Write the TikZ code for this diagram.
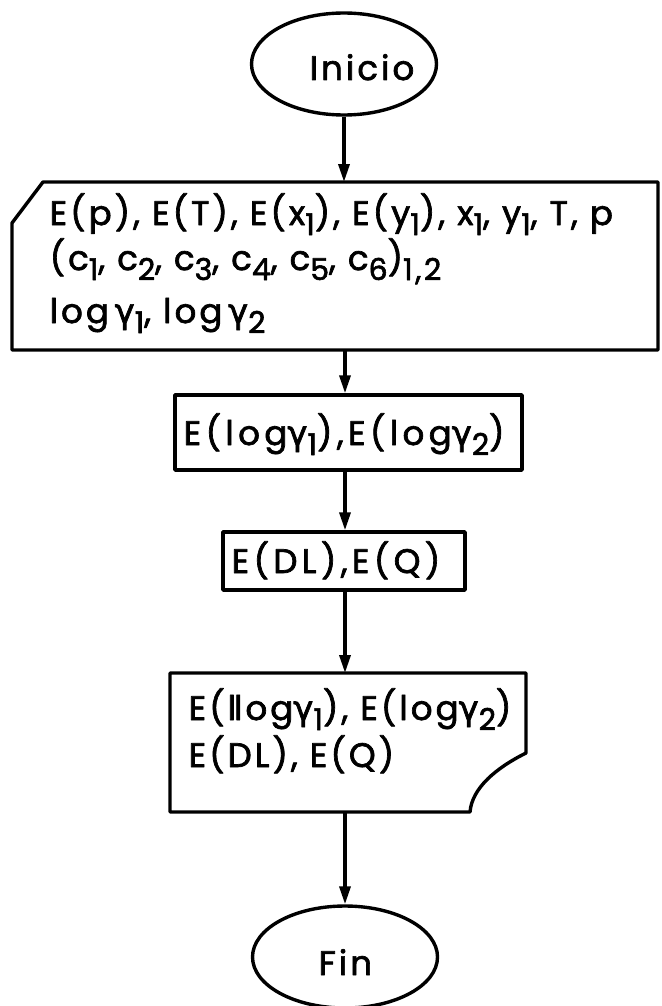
\documentclass[tikz,border=0pt]{standalone}
\usepackage{fontspec}
\setmainfont{Poppins}[FakeBold=2,LetterSpace=9]
\newfontfamily\gkfont{DejaVu Sans}[FakeBold=2]
\usetikzlibrary{shapes.geometric,arrows.meta}
\newcommand{\gam}{{\gkfont γ}}
\newcommand{\lo}[1]{\raisebox{-10pt}{\fontsize{30}{30}\selectfont #1}}
\newcommand{\wider}{\addfontfeature{LetterSpace=13}}
\begin{document}
\begin{tikzpicture}[x=1pt,y=-1pt,line width=3.4pt,line join=round,
  lbl/.style={font=\fontsize{34}{34}\selectfont,inner sep=0pt,anchor=base west},
  term/.style={draw,ellipse,minimum width=185pt,minimum height=102pt,inner sep=0pt},
  procbox/.style={draw,rectangle,inner sep=0pt},
  flow/.style={-{Triangle[length=18pt,width=11pt]}}]
\useasboundingbox (0,0) rectangle (661,1006);
\fill[white] (0,0) rectangle (661,1006);

% start terminal
\node[term] (ini) at (344,64) {};
\node[lbl] (ini-t) at (308,80) {Inicio};

% manual input of the data
\draw (43,182) -- (658,182) -- (658,350) -- (12,350) -- (12,223) -- cycle;
\coordinate (in-top) at (344,182);
\coordinate (in-bot) at (345,350);
\node[lbl] (in1) at (48,225) {E(p), E(T), E(x\lo1), E(y\lo1), x\lo1, y\lo1, T, p};
\node[lbl] (in2) at (48,270) {(c\lo1, c\lo2, c\lo3, c\lo4, c\lo5, c\lo6)\lo{1,2}};
\node[lbl] (in3) at (48,323) {log\,\gam\lo1, log\,\gam\lo2};

% process boxes
\node[procbox,minimum width=347pt,minimum height=75pt] (elog) at (348.5,432.5) {};
\node[lbl] (elog-t) at (182,445) {\wider E(log\gam\lo1),E(log\gam\lo2)};
\node[procbox,minimum width=242pt,minimum height=58pt] (edl) at (344,561) {};
\node[lbl] (edl-t) at (230,573) {\wider E(DL),E(Q)};

% output document
\draw (170,673) -- (526,673) -- (526,753)
  .. controls (496,768) and (472,788) .. (470,812) -- (170,812) -- cycle;
\coordinate (doc-top) at (345,673);
\coordinate (doc-bot) at (345,812);
\node[lbl] (doc1) at (187,720) {E(l\kern-2pt log\gam\lo1), E(log\gam\lo2)};
\node[lbl] (doc2) at (187,767) {E(DL), E(Q)};

% end terminal
\node[term] (fin) at (345,957) {};
\node[lbl] (fin-t) at (317,975) {Fin};

% connectors
\draw[flow] (ini.south) -- (in-top);
\draw[flow] (in-bot) -- (in-bot |- elog.north);
\draw[flow] (elog.south -| in-bot) -- (in-bot |- edl.north);
\draw[flow] (edl.south -| in-bot) -- (doc-top);
\draw[flow] (doc-bot) -- (fin.north);
\end{tikzpicture}
\end{document}
